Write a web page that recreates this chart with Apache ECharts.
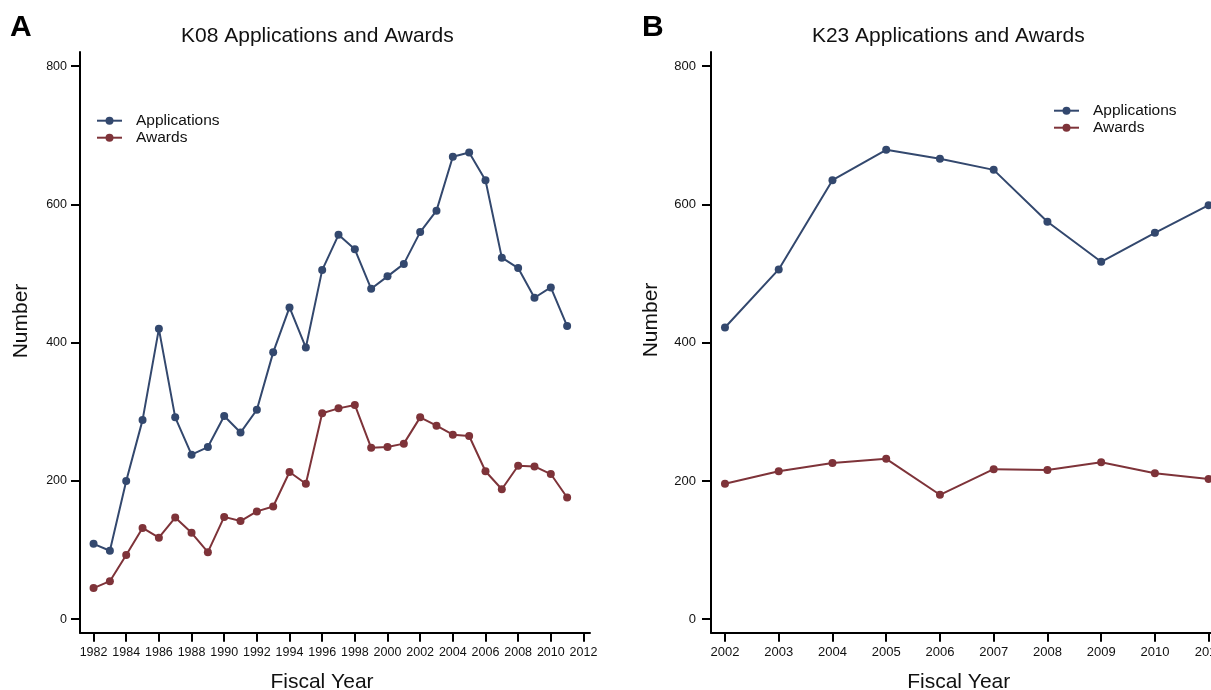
<!DOCTYPE html>
<html>
<head>
<meta charset="utf-8">
<script src="https://cdn.jsdelivr.net/npm/echarts@6/dist/echarts.min.js"></script>
<style>
html,body{margin:0;padding:0;background:#fff;}
#c{width:1211px;height:690px;}
</style>
</head>
<body>
<div id="c"></div>
<script>
// ---- data ----
var yearsA = [1982,1983,1984,1985,1986,1987,1988,1989,1990,1991,1992,1993,1994,1995,1996,1997,1998,1999,2000,2001,2002,2003,2004,2005,2006,2007,2008,2009,2010,2011];
var applicationsA = [109,99,200,288,420,292,238,249,294,270,303,386,451,393,505,556,535,478,496,514,560,591,669,675,635,523,508,465,480,424];
var awardsA = [45,55,93,132,118,147,125,97,148,142,156,163,213,196,298,305,310,248,249,254,292,280,267,265,214,188,222,221,210,176];

var yearsB = [2002,2003,2004,2005,2006,2007,2008,2009,2010,2011];
var applicationsB = [422,506,635,679,666,650,575,517,559,599];
var awardsB = [196,214,226,232,180,217,216,227,211,203];

var xTicksA = [1982,1984,1986,1988,1990,1992,1994,1996,1998,2000,2002,2004,2006,2008,2010,2012];
var xTicksB = [2002,2003,2004,2005,2006,2007,2008,2009,2010,2011];
var yTicks = [0,200,400,600,800];

var seriesNames = ['Applications','Awards'];
var colors = ['#33486e','#7e3339'];

function pairs(xs, ys){ return xs.map(function(x,i){ return [x, ys[i]]; }); }

var chart = echarts.init(document.getElementById('c'), null, {renderer:'canvas'});

function xAxisCfg(gridIndex, min, max, ticks, font, size){
  return {
    type:'value', gridIndex:gridIndex, min:min, max:max,
    axisLine:{show:true, onZero:false, lineStyle:{color:'#000', width:2}},
    axisTick:{show:true, length:9, inside:false, lineStyle:{color:'#000', width:2}, customValues:ticks},
    axisLabel:{show:true, margin:13, color:'#111', fontFamily:font, fontSize:size, customValues:ticks,
      hideOverlap:false, formatter:function(v){ return String(v); }},
    splitLine:{show:false}
  };
}
function yAxisCfg(gridIndex, font, size, margin){
  return {
    type:'value', gridIndex:gridIndex, min:-19.5, max:820.5,
    axisLine:{show:true, onZero:false, lineStyle:{color:'#000', width:2}},
    axisTick:{show:true, length:9, inside:false, lineStyle:{color:'#000', width:2}, customValues:yTicks},
    axisLabel:{show:true, margin:margin, color:'#111', fontFamily:font, fontSize:size, customValues:yTicks,
      formatter:function(v){ return String(v); }},
    splitLine:{show:false}
  };
}
function lineSeries(name, xi, data, color){
  return {
    type:'line', name:name, xAxisIndex:xi, yAxisIndex:xi, data:data,
    symbol:'circle', symbolSize:8, showSymbol:true,
    lineStyle:{color:color, width:2}, itemStyle:{color:color},
    emphasis:{disabled:true}, animation:false, z:3
  };
}
function legendCfg(left, top){
  return {
    data:seriesNames, orient:'vertical', left:left, top:top, padding:0,
    itemWidth:25, itemHeight:10, itemGap:1,
    selectedMode:false,
    textStyle:{fontFamily:'Liberation Sans, Arial', fontSize:15.5, color:'#111', padding:[0,0,0,9]}
  };
}
var F = 'Liberation Sans, Arial, sans-serif';

var option = {
  backgroundColor:'#fff',
  animation:false,
  color:colors,
  grid:[
    {left:80, top:52, width:510, height:580.7, containLabel:false, outerBoundsMode:'none'},
    {left:711, top:52, width:510, height:580.7, containLabel:false, outerBoundsMode:'none'}
  ],
  xAxis:[
    xAxisCfg(0, 1981.17, 2012.4, xTicksA, F, 12.5),
    xAxisCfg(1, 2001.74, 2011.23, xTicksB, F, 13)
  ],
  yAxis:[
    yAxisCfg(0, F, 12.5, 13),
    yAxisCfg(1, F, 13, 15)
  ],
  legend:[ legendCfg(96, 112.7), legendCfg(1053, 102.7) ],
  series:[
    lineSeries(seriesNames[0], 0, pairs(yearsA, applicationsA), colors[0]),
    lineSeries(seriesNames[1], 0, pairs(yearsA, awardsA), colors[1]),
    lineSeries(seriesNames[0], 1, pairs(yearsB, applicationsB), colors[0]),
    lineSeries(seriesNames[1], 1, pairs(yearsB, awardsB), colors[1])
  ],
  graphic:[
    {type:'text', left:10, top:13, style:{text:'A', font:'bold 30px Liberation Sans, Arial', fill:'#000'}},
    {type:'text', left:642, top:13, style:{text:'B', font:'bold 30px Liberation Sans, Arial', fill:'#000'}},
    {type:'text', x:317.4, y:36, style:{text:'K08 Applications and Awards', font:'21px Liberation Sans, Arial', fill:'#111', textAlign:'center', textVerticalAlign:'middle'}},
    {type:'text', x:948.3, y:36, style:{text:'K23 Applications and Awards', font:'21px Liberation Sans, Arial', fill:'#111', textAlign:'center', textVerticalAlign:'middle'}},
    {type:'text', x:21, y:321, rotation:Math.PI/2, style:{text:'Number', font:'21px Liberation Sans, Arial', fill:'#111', textAlign:'center', textVerticalAlign:'middle'}},
    {type:'text', x:651, y:320, rotation:Math.PI/2, style:{text:'Number', font:'21px Liberation Sans, Arial', fill:'#111', textAlign:'center', textVerticalAlign:'middle'}},
    {type:'text', x:322, y:682, style:{text:'Fiscal Year', font:'21px Liberation Sans, Arial', fill:'#111', textAlign:'center', textVerticalAlign:'middle'}},
    {type:'text', x:958.7, y:682, style:{text:'Fiscal Year', font:'21px Liberation Sans, Arial', fill:'#111', textAlign:'center', textVerticalAlign:'middle'}}
  ]
};
chart.setOption(option);
</script>
</body>
</html>
